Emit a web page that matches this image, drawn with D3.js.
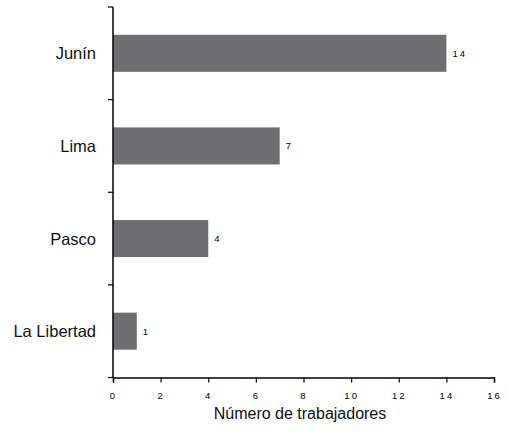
<!DOCTYPE html>
<html>
<head>
<meta charset="utf-8">
<script src="https://cdn.jsdelivr.net/npm/d3@7"></script>
<style>
    body { margin: 0; background: #fff; }
    svg { display: block; font-family: "Liberation Sans", Arial, sans-serif; }
</style>
</head>
<body>
<div id="chart"></div>
<script>
// Data
const regions = ["Junín", "Lima", "Pasco", "La Libertad"];
const workers = [14, 7, 4, 1];
const xTicks = [0, 2, 4, 6, 8, 10, 12, 14, 16];

const width = 509, height = 433;
const margin = { top: 7, right: 15, bottom: 56, left: 113 };
const chartWidth = 494 - margin.left;
const chartHeight = 377.5 - margin.top;

const svg = d3.select("#chart").append("svg")
    .attr("width", width)
    .attr("height", height);

const g = svg.append("g")
    .attr("transform", `translate(${margin.left}, ${margin.top})`);

const xScale = d3.scaleLinear().domain([0, 16]).range([0, chartWidth]);
const yScale = d3.scaleBand().domain(regions).range([0, chartHeight]).paddingInner(0.6).paddingOuter(0.3);
const bandScale = d3.scaleBand().domain(regions).range([0, chartHeight]);

// Bars
g.selectAll(".bar")
    .data(regions)
    .join("rect")
    .attr("class", "bar")
    .attr("x", 0)
    .attr("y", d => yScale(d))
    .attr("width", (d, i) => xScale(workers[i]))
    .attr("height", yScale.bandwidth())
    .attr("fill", "#6d6e70");

// Value labels
g.selectAll(".value")
    .data(regions)
    .join("text")
    .attr("class", "value")
    .attr("x", (d, i) => xScale(workers[i]) + 6)
    .attr("y", d => yScale(d) + yScale.bandwidth() / 2)
    .attr("dy", "0.35em")
    .attr("font-size", "9.5px")
    .attr("letter-spacing", "2px")
    .text((d, i) => workers[i]);

// Y axis: ticks at band edges
g.append("line")
    .attr("x1", 0).attr("x2", 0)
    .attr("y1", 0).attr("y2", chartHeight)
    .attr("stroke", "#000").attr("stroke-width", 1.5);

const edges = regions.map(r => bandScale(r)).concat([chartHeight]);
g.selectAll(".ytick")
    .data(edges)
    .join("line")
    .attr("class", "ytick")
    .attr("x1", -5).attr("x2", 0)
    .attr("y1", d => d).attr("y2", d => d)
    .attr("stroke", "#000").attr("stroke-width", 1.2);

g.selectAll(".ylabel")
    .data(regions)
    .join("text")
    .attr("class", "ylabel")
    .attr("x", -17)
    .attr("y", d => bandScale(d) + bandScale.bandwidth() / 2)
    .attr("dy", "0.36em")
    .attr("text-anchor", "end")
    .attr("font-size", "16.5px")
    .attr("fill", "#111")
    .text(d => d);

// X axis
const xAxis = d3.axisBottom(xScale).tickValues(xTicks).tickSize(5).tickPadding(10);
const xg = g.append("g")
    .attr("transform", `translate(0, ${chartHeight})`)
    .call(xAxis);
xg.select(".domain").attr("stroke-width", 1.5);
xg.selectAll(".tick line").attr("stroke-width", 1.2);
xg.selectAll("text")
    .attr("font-size", "9.5px")
    .attr("font-family", "Liberation Sans, Arial, sans-serif")
    .attr("letter-spacing", "2px");

svg.append("text")
    .attr("x", 300)
    .attr("y", 419)
    .attr("text-anchor", "middle")
    .attr("font-size", "16px")
    .attr("fill", "#111")
    .text("Número de trabajadores");
</script>
</body>
</html>
